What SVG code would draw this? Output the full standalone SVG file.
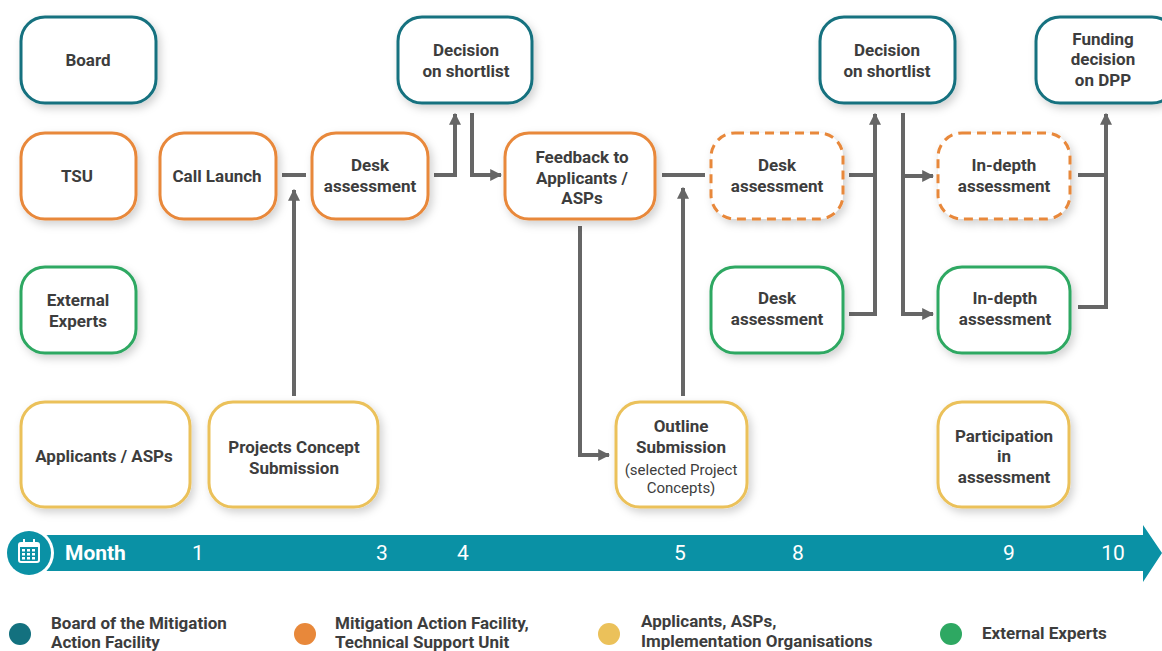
<svg xmlns="http://www.w3.org/2000/svg" width="1162" height="651" viewBox="0 0 1162 651">
<defs>
<filter id="sh" x="-20%" y="-20%" width="150%" height="150%">
<feDropShadow dx="3" dy="4" stdDeviation="4" flood-color="#000" flood-opacity="0.18"/>
</filter>
<marker id="ah" viewBox="0 0 10 10" refX="9" refY="5" markerWidth="3" markerHeight="3" orient="auto" markerUnits="strokeWidth">
<path d="M0,0 L10,5 L0,10 z" fill="#666"/>
</marker>
</defs>
<style>
.n{fill:#fff;stroke-width:3;filter:url(#sh)}
.teal{stroke:#13717f}
.or{stroke:#e8883a}
.gr{stroke:#2ea862}
.ye{stroke:#ebc15a}
.dash{stroke-dasharray:9 6}
.t{font-family:Roboto,"Liberation Sans",sans-serif;font-weight:bold;font-size:17px;fill:#3d3d3d;text-anchor:middle}
.s{font-family:Roboto,"Liberation Sans",sans-serif;font-size:15px;fill:#3d3d3d;text-anchor:middle}
.c{fill:none;stroke:#666;stroke-width:4}
.m{font-family:Roboto,"Liberation Sans",sans-serif;font-size:21px;fill:#fff;text-anchor:middle}
.lg{font-family:Roboto,"Liberation Sans",sans-serif;font-weight:bold;font-size:17px;fill:#3d3d3d}
</style>
<rect width="1162" height="651" fill="#fff"/>

<g id="connectors">
<path class="c" d="M282,175 H306"/>
<path class="c" d="M294,396 V190" marker-end="url(#ah)"/>
<path class="c" d="M434,175 H455 V114" marker-end="url(#ah)"/>
<path class="c" d="M472,113 V175 H501" marker-end="url(#ah)"/>
<path class="c" d="M580,226 V455 H609" marker-end="url(#ah)"/>
<path class="c" d="M683,396 V188" marker-end="url(#ah)"/>
<path class="c" d="M662,175 H705"/>
<path class="c" d="M849,175 H875"/>
<path class="c" d="M849,314 H875 V114" marker-end="url(#ah)"/>
<path class="c" d="M903,113 V314 H933" marker-end="url(#ah)"/>
<path class="c" d="M903,176 H933" marker-end="url(#ah)"/>
<path class="c" d="M1078,175 H1106"/>
<path class="c" d="M1078,307 H1106 V114" marker-end="url(#ah)"/>
</g>

<g id="board"><rect class="n teal" x="21" y="17" width="135" height="86" rx="24"/><text class="t" x="88" y="66">Board</text></g>
<g id="tsu"><rect class="n or" x="21" y="133" width="115" height="86" rx="24"/><text class="t" x="77" y="182">TSU</text></g>
<g id="experts"><rect class="n gr" x="21" y="267" width="115" height="86" rx="24"/><text class="t" x="78" y="306">External</text><text class="t" x="78" y="327">Experts</text></g>
<g id="applicants"><rect class="n ye" x="21" y="402" width="169" height="105" rx="24"/><text class="t" x="104" y="462">Applicants / ASPs</text></g>
<g id="call"><rect class="n or" x="160" y="133" width="116" height="86" rx="24"/><text class="t" x="217" y="182">Call Launch</text></g>
<g id="concept"><rect class="n ye" x="209" y="402" width="169" height="105" rx="24"/><text class="t" x="294" y="453">Projects Concept</text><text class="t" x="294" y="474">Submission</text></g>
<g id="desk1"><rect class="n or" x="312" y="133" width="116" height="86" rx="24"/><text class="t" x="370" y="171">Desk</text><text class="t" x="370" y="192">assessment</text></g>
<g id="decision1"><rect class="n teal" x="398" y="17" width="134" height="86" rx="24"/><text class="t" x="466" y="56">Decision</text><text class="t" x="466" y="77">on shortlist</text></g>
<g id="feedback"><rect class="n or" x="505" y="133" width="150" height="86" rx="24"/><text class="t" x="582" y="163">Feedback to</text><text class="t" x="582" y="184">Applicants /</text><text class="t" x="582" y="204">ASPs</text></g>
<g id="outline"><rect class="n ye" x="616" y="402" width="131" height="105" rx="24"/><text class="t" x="681" y="432">Outline</text><text class="t" x="681" y="453">Submission</text><text class="s" x="681" y="475">(selected Project</text><text class="s" x="681" y="493">Concepts)</text></g>
<g id="desk2"><rect class="n or dash" x="711" y="133" width="132" height="86" rx="24"/><text class="t" x="777" y="171">Desk</text><text class="t" x="777" y="192">assessment</text></g>
<g id="desk3"><rect class="n gr" x="711" y="267" width="132" height="86" rx="24"/><text class="t" x="777" y="304">Desk</text><text class="t" x="777" y="325">assessment</text></g>
<g id="decision2"><rect class="n teal" x="820" y="17" width="135" height="86" rx="24"/><text class="t" x="887" y="56">Decision</text><text class="t" x="887" y="77">on shortlist</text></g>
<g id="indepth1"><rect class="n or dash" x="938" y="133" width="132" height="86" rx="24"/><text class="t" x="1004" y="171">In-depth</text><text class="t" x="1004" y="192">assessment</text></g>
<g id="indepth2"><rect class="n gr" x="938" y="267" width="132" height="86" rx="24"/><text class="t" x="1005" y="304">In-depth</text><text class="t" x="1005" y="325">assessment</text></g>
<g id="participation"><rect class="n ye" x="938" y="402" width="131" height="105" rx="24"/><text class="t" x="1004" y="442">Participation</text><text class="t" x="1004" y="462">in</text><text class="t" x="1004" y="483">assessment</text></g>
<g id="funding"><rect class="n teal" x="1036" y="17" width="140" height="86" rx="24"/><text class="t" x="1103" y="45">Funding</text><text class="t" x="1103" y="65">decision</text><text class="t" x="1103" y="86">on DPP</text></g>

<g id="timeline">
<path d="M46,535 H1143 V525 L1162,553 L1143,582 V571 H46 Z" fill="#0a91a5"/>
<circle cx="29" cy="553" r="25" fill="#fff"/>
<circle cx="29" cy="553" r="22" fill="#0a91a5"/>
<rect x="19" y="543" width="20" height="19" rx="2" fill="none" stroke="#fff" stroke-width="2"/>
<rect x="19" y="543" width="20" height="4" fill="#fff"/>
<rect x="23" y="539" width="2" height="6" fill="#fff"/>
<rect x="33" y="539" width="2" height="6" fill="#fff"/>
<g fill="#fff">
<rect x="22" y="549" width="3" height="2.5"/><rect x="27" y="549" width="3" height="2.5"/><rect x="32" y="549" width="3" height="2.5"/>
<rect x="22" y="553" width="3" height="2.5"/><rect x="27" y="553" width="3" height="2.5"/><rect x="32" y="553" width="3" height="2.5"/>
<rect x="22" y="557" width="3" height="2.5"/><rect x="27" y="557" width="3" height="2.5"/><rect x="32" y="557" width="3" height="2.5"/>
</g>
<text x="65" y="560" font-family="Roboto,'Liberation Sans',sans-serif" font-weight="bold" font-size="21" fill="#fff">Month</text>
<text class="m" x="198" y="560">1</text>
<text class="m" x="382" y="560">3</text>
<text class="m" x="463" y="560">4</text>
<text class="m" x="680" y="560">5</text>
<text class="m" x="798" y="560">8</text>
<text class="m" x="1009" y="560">9</text>
<text class="m" x="1113" y="560">10</text>
</g>

<g id="legend">
<circle cx="20" cy="634" r="11" fill="#13717f"/>
<text class="lg" x="51" y="629">Board of the Mitigation</text>
<text class="lg" x="51" y="648">Action Facility</text>
<circle cx="305" cy="634" r="11" fill="#e8883a"/>
<text class="lg" x="335" y="629">Mitigation Action Facility,</text>
<text class="lg" x="335" y="648">Technical Support Unit</text>
<circle cx="609" cy="634" r="11" fill="#ebc15a"/>
<text class="lg" x="641" y="627">Applicants, ASPs,</text>
<text class="lg" x="641" y="647">Implementation Organisations</text>
<circle cx="951" cy="634" r="11" fill="#2ea862"/>
<text class="lg" x="982" y="639">External Experts</text>
</g>
</svg>
